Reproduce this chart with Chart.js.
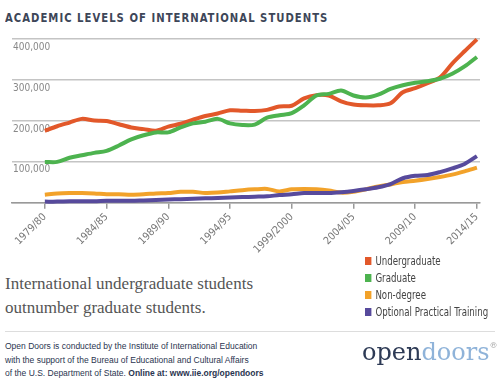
<!DOCTYPE html>
<html>
<head>
<meta charset="utf-8">
<script src="https://cdn.jsdelivr.net/npm/chart.js@4.4.1/dist/chart.umd.min.js"></script>
<style>
  body { margin: 0; background: #fff; }
  #wrap { position: relative; width: 500px; height: 386px; overflow: hidden; background: #fff; }
  .title { position: absolute; left: 5px; top: 10px; font: bold 13px "DejaVu Sans Condensed", "DejaVu Sans", sans-serif; letter-spacing: 1.2px; color: #3d4658; white-space: nowrap; transform: scaleX(0.86); transform-origin: 0 0; }
  #plot { position: absolute; left: 0; top: 0; width: 500px; height: 258px; }
  .caption { position: absolute; left: 5px; top: 272px; font: 17px "Liberation Serif", serif; line-height: 24px; color: #555; white-space: nowrap; }
  #legend { position: absolute; left: 365px; top: 253px; font: 12px "DejaVu Sans Condensed", "DejaVu Sans", sans-serif; color: #444; transform: scaleX(0.8); transform-origin: 0 0; }
  #legend div { height: 17px; line-height: 17px; white-space: nowrap; }
  #legend span { display: inline-block; width: 8px; height: 8px; margin-right: 5px; vertical-align: 0px; }
  .rule { position: absolute; left: 5px; top: 331px; width: 490px; height: 1px; background: #ddd; }
  .footer { position: absolute; left: 5px; top: 340px; font: 8.5px "Liberation Sans", sans-serif; line-height: 13.5px; color: #2a3550; white-space: nowrap; }
  .footer b { font-weight: bold; }
  .logo { position: absolute; left: 362px; top: 338px; font: 24px "DejaVu Serif", serif; color: #2d3a55; white-space: nowrap; }
  .logo .d { color: #8fb3d9; }
  .logo sup { font-size: 8px; color: #999; vertical-align: 12px; }
</style>
</head>
<body>
<div id="wrap">
  <div class="title">ACADEMIC LEVELS OF INTERNATIONAL STUDENTS</div>
  <div id="plot"><canvas id="chartLevels"></canvas></div>
  <div class="caption">International undergraduate students<br>outnumber graduate students.</div>
  <div id="legend"></div>
  <div class="rule"></div>
  <div class="footer">Open Doors is conducted by the Institute of International Education<br>with the support of the Bureau of Educational and Cultural Affairs<br>of the U.S. Department of State. <b>Online at: www.iie.org/opendoors</b></div>
  <div class="logo">open<span class="d">doors</span><sup>®</sup></div>
</div>
<script>
const years = ['1979/80', '1980/81', '1981/82', '1982/83', '1983/84', '1984/85', '1985/86', '1986/87', '1987/88', '1988/89',
  '1989/90', '1990/91', '1991/92', '1992/93', '1993/94', '1994/95', '1995/96', '1996/97', '1997/98', '1998/99',
  '1999/2000', '2000/01', '2001/02', '2002/03', '2003/04', '2004/05', '2005/06', '2006/07', '2007/08', '2008/09',
  '2009/10', '2010/11', '2011/12', '2012/13', '2013/14', '2014/15'];
const tickIdx = [0, 5, 10, 15, 20, 25, 30, 35];
const yTicks = [0, 100000, 200000, 300000, 400000];

const seriesNames = ['Undergraduate', 'Graduate', 'Non-degree', 'Optional Practical Training'];
const seriesColors = ['#e2582a', '#4db34f', '#f2a22a', '#574a9c'];

const undergraduate = [176000, 187000, 196000, 205000, 201000, 200000, 192000, 184000, 180000, 176000,
  186000, 193000, 203000, 212000, 218000, 226000, 225000, 224000, 227000, 235000,
  237000, 255000, 263000, 262000, 248000, 240000, 238000, 238000, 243000, 270000,
  280000, 292000, 306000, 340000, 370000, 399000];
const graduate = [100000, 100000, 110000, 116000, 122000, 127000, 140000, 155000, 165000, 172000,
  172000, 184000, 194000, 198000, 205000, 194000, 190000, 191000, 208000, 214000,
  219000, 238000, 262000, 266000, 274000, 262000, 257000, 264000, 278000, 287000,
  293000, 297000, 303000, 315000, 333000, 356000];
const nonDegree = [20000, 23000, 24000, 24000, 23000, 21000, 21000, 20000, 21000, 23000,
  24000, 27000, 27000, 24000, 25000, 28000, 31000, 33000, 34000, 28000,
  33000, 34000, 33000, 30000, 25000, 27000, 33000, 40000, 45000, 51000,
  54000, 58000, 63000, 69000, 77000, 86000];
const opt = [3000, 3000, 4000, 4000, 4000, 5000, 5000, 5000, 6000, 7000,
  8000, 9000, 10000, 11000, 12000, 13000, 14000, 15000, 16000, 19000,
  21000, 24000, 24000, 24000, 26000, 29000, 33000, 38000, 46000, 60000,
  66000, 68000, 75000, 84000, 95000, 114000];

const seriesValues = [undergraduate, graduate, nonDegree, opt];
// draw order: lower number on top
const drawOrder = [2, 1, 4, 3];

const legendEl = document.getElementById('legend');
seriesNames.forEach(function(name, i) {
  const row = document.createElement('div');
  row.innerHTML = '<span style="background:' + seriesColors[i] + '"></span>' + name;
  legendEl.appendChild(row);
});

const narrow = '"DejaVu Sans Condensed", "DejaVu Sans", sans-serif';

new Chart(document.getElementById('chartLevels').getContext('2d'), {
  type: 'line',
  data: {
    datasets: seriesNames.map(function(name, i) {
      return {
        label: name,
        data: seriesValues[i].map(function(v, k) { return { x: k, y: v }; }),
        borderColor: seriesColors[i],
        backgroundColor: seriesColors[i],
        borderWidth: 4,
        pointRadius: 0,
        tension: 0.3,
        order: drawOrder[i],
        clip: false
      };
    })
  },
  options: {
    responsive: true,
    maintainAspectRatio: false,
    animation: false,
    layout: { padding: { left: 10, right: 20, top: 39, bottom: 0 } },
    plugins: { legend: { display: false }, tooltip: { enabled: false } },
    scales: {
      x: {
        type: 'linear',
        min: -2.66,
        max: 35.25,
        afterBuildTicks: function(axis) { axis.ticks = tickIdx.map(function(v) { return { value: v }; }); },
        ticks: {
          autoSkip: false,
          minRotation: 45,
          maxRotation: 45,
          padding: 2,
          color: '#777',
          font: { family: narrow, size: 10.5 },
          callback: function(v) { return years[v]; }
        },
        grid: { drawOnChartArea: false, tickLength: 6, color: '#999', lineWidth: 1.5 },
        border: { color: '#999', width: 1.5 }
      },
      y: {
        min: 0,
        max: 400000,
        afterBuildTicks: function(axis) { axis.ticks = yTicks.map(function(v) { return { value: v }; }); },
        ticks: {
          mirror: true,
          labelOffset: 8,
          padding: 1,
          color: '#888',
          font: { family: narrow, size: 10 },
          callback: function(v) { return v === 0 ? '' : v.toLocaleString('en-US'); }
        },
        grid: { drawTicks: false, color: '#c4c4c4', lineWidth: 1.5 },
        border: { display: false }
      }
    }
  }
});
</script>
</body>
</html>
